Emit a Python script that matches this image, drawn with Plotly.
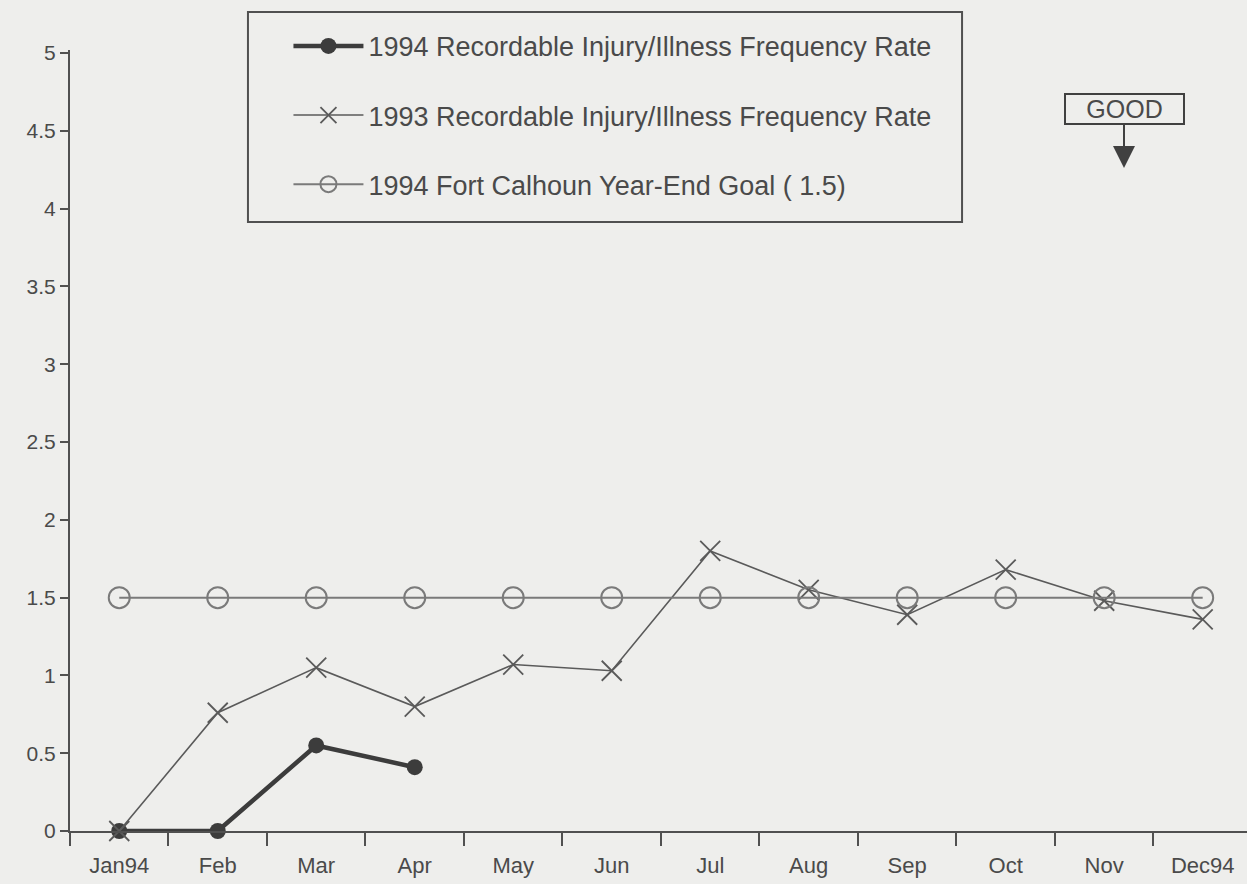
import plotly.graph_objects as go

months = ["Jan94", "Feb", "Mar", "Apr", "May", "Jun", "Jul", "Aug", "Sep", "Oct", "Nov", "Dec94"]
rate_1994 = [0.0, 0.0, 0.55, 0.41]
rate_1993 = [0.0, 0.76, 1.05, 0.80, 1.07, 1.03, 1.80, 1.55, 1.39, 1.68, 1.48, 1.36]
goal_1994 = [1.5] * 12
y_ticks = [0, 0.5, 1, 1.5, 2, 2.5, 3, 3.5, 4, 4.5, 5]

INK = "#4a4a4a"
BG = "#eeeeec"
FONT = "Liberation Sans, Arial, sans-serif"

fig = go.Figure()
fig.add_trace(go.Scatter(
    x=months[:len(rate_1994)], y=rate_1994, mode="lines+markers",
    name="1994 Recordable Injury/Illness Frequency Rate",
    line=dict(color="#3c3c3c", width=4.5),
    marker=dict(symbol="circle", size=16, color="#3c3c3c"),
    cliponaxis=False, legendgroup="a"))
fig.add_trace(go.Scatter(
    x=months, y=rate_1993, mode="lines+markers",
    name="1993 Recordable Injury/Illness Frequency Rate",
    line=dict(color="#5a5a5a", width=1.6),
    marker=dict(symbol="x-thin-open", size=20, line=dict(color="#4a4a4a", width=1.8)),
    cliponaxis=False, legendgroup="b"))
fig.add_trace(go.Scatter(
    x=months, y=goal_1994, mode="lines+markers",
    name="1994 Fort Calhoun Year-End Goal ( 1.5)",
    line=dict(color="#7a7a7a", width=2),
    marker=dict(symbol="circle-open", size=21, line=dict(color="#555555", width=2)),
    cliponaxis=False, legendgroup="c"))

fig.update_layout(
    width=1247, height=884,
    margin=dict(l=70, r=0, t=50, b=53),
    paper_bgcolor=BG, plot_bgcolor=BG,
    font=dict(family=FONT, size=21, color=INK),
    showlegend=True,
    legend=dict(
        x=0.1856, y=1.036, xanchor="left", yanchor="top",
        bgcolor="rgba(0,0,0,0)", borderwidth=0,
        font=dict(size=27, color=INK), traceorder="grouped",
        tracegroupgap=31, itemwidth=70,
    ),
    shapes=[dict(
        type="rect", xref="paper", yref="paper",
        x0=0.1512, x1=0.7579, y0=0.7798, y1=1.0487,
        line=dict(color="#505050", width=2), fillcolor="rgba(0,0,0,0)", layer="below",
    )],
    xaxis=dict(
        type="category", range=[-0.5, 11.45], showgrid=False,
        showline=True, linecolor="#505050", linewidth=2,
        ticks="outside", tickson="boundaries", ticklen=13, tickwidth=1.5,
        tickcolor="#505050", tickfont=dict(size=22, color=INK), zeroline=False,
        ticklabelstandoff=14,
    ),
    yaxis=dict(
        range=[0, 5.02], tickvals=y_ticks, ticktext=[f"{v:g}" for v in y_ticks],
        showgrid=False, zeroline=False,
        showline=True, linecolor="#505050", linewidth=2,
        ticks="outside", ticklen=8, tickwidth=1.5, tickcolor="#505050",
        tickfont=dict(size=21, color=INK),
    ),
    annotations=[dict(
        xref="paper", yref="paper", x=0.8955, y=0.849,
        ax=0, ay=-59, text="GOOD", showarrow=True,
        arrowhead=2, arrowsize=2.2, arrowwidth=2, arrowcolor="#404040",
        font=dict(size=25, color=INK, family=FONT),
        bordercolor="#404040", borderwidth=2, borderpad=0, bgcolor=BG,
        width=117,
    )],
)

fig.write_html("out.html", config={"displayModeBar": False},
               post_script="document.body.style.margin='0px';")
